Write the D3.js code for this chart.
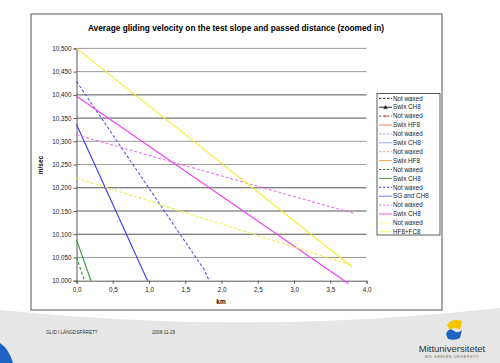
<!DOCTYPE html>
<html>
<head>
<meta charset="utf-8">
<script src="https://cdn.jsdelivr.net/npm/d3@7"></script>
<style>
  body { margin: 0; background: #fff; }
  svg { display: block; font-family: "Liberation Sans", Arial, sans-serif; }
</style>
</head>
<body>
<svg id="canvas_svg" width="500" height="363"></svg>
<script>
// data (km, m/sec)
var greenDashed   = [[0, 10.050], [0.11, 10.000]];
var greenSolid    = [[0, 10.088], [0.20, 10.000]];
var blueDashed    = [[0, 10.429], [1.76, 10.024], [1.83, 10.000]];
var blueSolid     = [[0, 10.336], [0.98, 10.000]];
var magentaDashed = [[0, 10.314], [3.82, 10.145]];
var magentaSolid  = [[0, 10.397], [3.75, 9.994]];
var yellowDashed  = [[0, 10.221], [3.82, 10.032]];
var yellowSolid   = [[0, 10.500], [3.80, 10.030]];

var xTicks = [0, 0.5, 1, 1.5, 2, 2.5, 3, 3.5, 4];
var yTicks = [10.0, 10.05, 10.1, 10.15, 10.2, 10.25, 10.3, 10.35, 10.4, 10.45, 10.5];

var legendLabels = ["Not waxed", "Swix CH8", "Not waxed", "Swix HF8", "Not waxed", "Swix CH8",
  "Not waxed", "Swix HF8", "Not waxed", "Swix CH8", "Not waxed", "SG and CH8",
  "Not waxed", "Swix CH8", "Not waxed", "HF8+FC8"];
var legendColors = ["#000000", "#000000", "#993300", "#ff6633", "#9999ff", "#9999ff",
  "#ff9966", "#ff9933", "#008000", "#339933", "#3333ff", "#6666ff",
  "#ff66ff", "#ff44ff", "#ffff33", "#ffff33"];
var legendDashed = [1, 0, 1, 0, 1, 0, 1, 0, 1, 0, 1, 0, 1, 0, 1, 0];

var svg = d3.select("#canvas_svg");

// footer background
svg.append("path")
  .attr("d", "M0,310 Q250,336 500,308 L500,363 L0,363 Z")
  .attr("fill", "#e6e6e6");
svg.append("path")
  .attr("d", "M0,343 Q9,349 13,363 L0,363 Z")
  .attr("fill", "#1e63c4");

// chart frame
svg.append("rect")
  .attr("x", 31).attr("y", 14).attr("width", 411).attr("height", 296)
  .attr("fill", "#fff").attr("stroke", "#555").attr("stroke-width", 1);

svg.append("text")
  .attr("x", 236).attr("y", 30.5)
  .attr("text-anchor", "middle")
  .attr("font-size", "8.3px").attr("font-weight", "bold")
  .text("Average gliding velocity on the test slope and passed distance (zoomed in)");

var xScale = d3.scaleLinear().domain([0, 4]).range([76.5, 366.5]);
var yScale = d3.scaleLinear().domain([10.0, 10.5]).range([280.7, 48.4]);

// gridlines
svg.append("g").selectAll("line")
  .data(yTicks.slice(1))
  .enter().append("line")
  .attr("x1", xScale(0)).attr("x2", xScale(4))
  .attr("y1", d => yScale(d)).attr("y2", d => yScale(d))
  .attr("stroke", (d, i) => [0, 4, 5, 9, 8].indexOf(i) >= 0 ? "#9a9a9a" : "#555")
  .attr("stroke-width", 1);

var yAxis = d3.axisLeft(yScale).tickValues(yTicks)
  .tickFormat(d => d3.format(",.3f")(d).replace(".", ","))
  .tickSizeOuter(0).tickSize(3).tickPadding(2);
var xAxis = d3.axisBottom(xScale).tickValues(xTicks)
  .tickFormat(d => d3.format(".1f")(d).replace(".", ","))
  .tickSizeOuter(0).tickSize(3).tickPadding(4);

var gy = svg.append("g").attr("transform", "translate(" + xScale(0) + ",0)").call(yAxis);
var gx = svg.append("g").attr("transform", "translate(0," + yScale(10.0) + ")").call(xAxis);
[gx, gy].forEach(g => {
  g.selectAll("path,line").attr("stroke", "#555");
  g.selectAll("text").attr("font-size", "6.3px").attr("fill", "#222")
    .attr("font-family", "Liberation Sans, Arial, sans-serif");
});

svg.append("text")
  .attr("transform", "translate(43,165) rotate(-90)")
  .attr("text-anchor", "middle")
  .attr("font-size", "6.5px").attr("font-weight", "bold")
  .text("m/sec");
svg.append("text")
  .attr("x", 221).attr("y", 304)
  .attr("text-anchor", "middle")
  .attr("font-size", "6.5px").attr("font-weight", "bold")
  .text("km");

// series
var line = d3.line().x(d => xScale(d[0])).y(d => yScale(d[1]));
var series = [
  { data: greenDashed, color: "#339933", dash: "3,2" },
  { data: greenSolid, color: "#339933", dash: null },
  { data: blueDashed, color: "#5555f0", dash: "3,2" },
  { data: blueSolid, color: "#3a3af5", dash: null },
  { data: magentaDashed, color: "#f070f0", dash: "3,2" },
  { data: magentaSolid, color: "#f040f0", dash: null },
  { data: yellowDashed, color: "#f2f040", dash: "3,2" },
  { data: yellowSolid, color: "#f2f030", dash: null }
];
svg.append("g").selectAll("path")
  .data(series)
  .enter().append("path")
  .attr("d", d => line(d.data))
  .attr("fill", "none")
  .attr("stroke", d => d.color)
  .attr("stroke-width", 1.1)
  .attr("stroke-dasharray", d => d.dash);

// legend
var legend = svg.append("g");
legend.append("rect")
  .attr("x", 377).attr("y", 93.5).attr("width", 63).attr("height", 141.5)
  .attr("fill", "#fff").attr("stroke", "#333").attr("stroke-width", 0.8);
var items = legend.selectAll("g.item")
  .data(legendLabels)
  .enter().append("g")
  .attr("class", "item")
  .attr("transform", (d, i) => "translate(0," + (98.3 + i * 8.9) + ")");
items.append("line")
  .attr("x1", 379).attr("x2", 392).attr("y1", 0).attr("y2", 0)
  .attr("stroke", (d, i) => legendColors[i])
  .attr("stroke-width", 0.9)
  .attr("stroke-dasharray", (d, i) => legendDashed[i] ? "2.5,1.5" : null);
items.filter((d, i) => i == 1).append("path")
  .attr("d", "M385.5,-2 L387.7,1.6 L383.3,1.6 Z").attr("fill", "#000");
items.filter((d, i) => i == 2).append("text")
  .attr("x", 385.5).attr("y", 2).attr("text-anchor", "middle")
  .attr("font-size", "6px").attr("fill", "#cc3300").text("×");
items.append("text")
  .attr("x", 393).attr("y", 2.2)
  .attr("font-size", "6.3px").attr("fill", "#222")
  .text(d => d);

// footer
svg.append("text").attr("x", 46).attr("y", 334)
  .attr("font-size", "4.6px").attr("fill", "#333").text("GLID I LÄNGDSPÅRET?");
svg.append("text").attr("x", 152).attr("y", 334)
  .attr("font-size", "4.6px").attr("fill", "#333").text("2008-11-29");

// logo
svg.append("path")
  .attr("d", "M447,325 Q452,318 462,321 L460,330 Q455,326 450,330 Z")
  .attr("fill", "#f5c400");
svg.append("path")
  .attr("d", "M446,334 Q449,327 454,331 Q458,334 462,330 L460,338 Q455,341 448,339 Z")
  .attr("fill", "#1e63c4");
svg.append("text").attr("x", 452).attr("y", 352)
  .attr("text-anchor", "middle")
  .attr("font-size", "9.5px").attr("fill", "#333").text("Mittuniversitetet");
svg.append("text").attr("x", 452).attr("y", 358)
  .attr("text-anchor", "middle").attr("letter-spacing", "0.6")
  .attr("font-size", "3.3px").attr("fill", "#666").text("MID SWEDEN UNIVERSITY");
</script>
</body>
</html>
